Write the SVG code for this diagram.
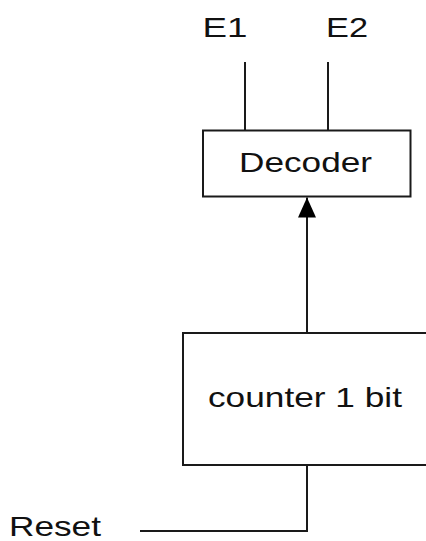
<svg xmlns="http://www.w3.org/2000/svg" width="426" height="541" viewBox="0 0 426 541">
<style>
  .box { fill: #ffffff; stroke: #1a1a1a; stroke-width: 2; }
  .wire { fill: none; stroke: #1a1a1a; stroke-width: 2; }
  .lbl { font-family: "Liberation Sans", Arial, sans-serif; font-size: 28px; fill: #111111; }
</style>
<defs>
  <marker id="arrow" markerUnits="userSpaceOnUse" markerWidth="22" markerHeight="18" refX="20" refY="9" orient="auto">
    <path d="M0,0 L20,9 L0,18 Z" fill="#000000"/>
  </marker>
</defs>
<rect width="426" height="541" fill="#ffffff"/>
<g id="connectors">
  <line class="wire" x1="245" y1="62" x2="245" y2="130.5"/>
  <line class="wire" x1="328" y1="62" x2="328" y2="130.5"/>
  <line class="wire" x1="307" y1="333" x2="307" y2="197.5" marker-end="url(#arrow)"/>
  <polyline class="wire" points="140,531 307,531 307,465"/>
</g>
<g id="decoder">
  <rect class="box" x="203" y="130.5" width="207.5" height="66"/>
  <text class="lbl" x="239" y="171.5" textLength="133" lengthAdjust="spacingAndGlyphs">Decoder</text>
</g>
<g id="counter">
  <rect class="box" x="183" y="333" width="260" height="132"/>
  <text class="lbl" x="208" y="406.5" textLength="194" lengthAdjust="spacingAndGlyphs">counter 1 bit</text>
</g>
<g id="e1">
  <text class="lbl" x="202.5" y="36.5" textLength="45" lengthAdjust="spacingAndGlyphs">E1</text>
</g>
<g id="e2">
  <text class="lbl" x="326" y="36.5" textLength="42" lengthAdjust="spacingAndGlyphs">E2</text>
</g>
<g id="reset">
  <text class="lbl" x="9" y="536" textLength="92" lengthAdjust="spacingAndGlyphs">Reset</text>
</g>
</svg>
